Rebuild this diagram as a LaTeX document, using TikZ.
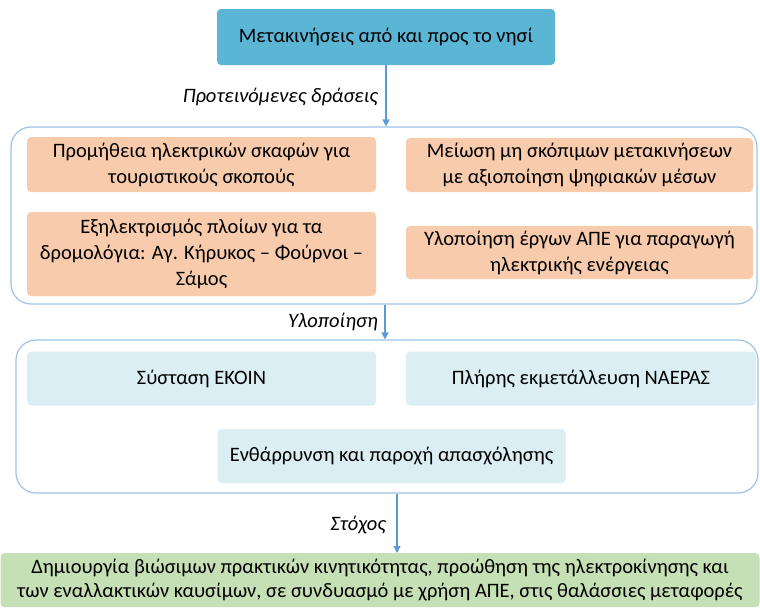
\documentclass[tikz,border=0pt]{standalone}
\usepackage{fontspec}
\setmainfont{Carlito}
\usetikzlibrary{arrows.meta}
\definecolor{topblue}{HTML}{5BB5D5}
\definecolor{orangefill}{HTML}{F8CBAD}
\definecolor{lightbluefill}{HTML}{DAEEF3}
\definecolor{greenfill}{HTML}{C5E0B4}
\definecolor{framecol}{HTML}{9DC3E6}
\definecolor{arrowcol}{HTML}{5B9BD5}
\tikzset{
  box/.style={rounded corners=4pt, align=center, inner sep=2pt,
    font=\fontsize{20.5}{26}\selectfont},
  topbox/.style={box, fill=topblue},
  orangebox/.style={box, fill=orangefill},
  bluebox/.style={box, fill=lightbluefill},
  greenbox/.style={box, fill=greenfill, font=\fontsize{20.5}{24}\selectfont},
  frame/.style={draw=framecol, line width=1.2pt, rounded corners=20pt},
  flow/.style={draw=arrowcol, line width=1.2pt, -{Triangle[length=7pt,width=7pt]}},
  lbl/.style={font=\fontsize{20.5}{24}\selectfont\itshape, anchor=east, inner sep=0pt}
}
\begin{document}
\begin{tikzpicture}[x=1pt,y=-1pt]
\useasboundingbox (0,0) rectangle (760,608);
\node[topbox, minimum width=338pt, minimum height=56pt] (top) at (386,37) {Μετακινήσεις από και προς το νησί};
\node[frame, minimum width=746pt, minimum height=177pt] (c1) at (384,215.5) {};
\node[orangebox, minimum width=349pt, minimum height=55pt] (o1) at (201.5,164.5) {Προμήθεια ηλεκτρικών σκαφών για\\τουριστικούς σκοπούς};
\node[orangebox, minimum width=349pt, minimum height=84pt] (o2) at (201.5,254) {Εξηλεκτρισμός πλοίων για τα\\δρομολόγια: Αγ. Κήρυκος – Φούρνοι –\\Σάμος};
\node[orangebox, minimum width=347pt, minimum height=54pt] (o3) at (579.5,165) {Μείωση μη σκόπιμων μετακινήσεων\\με αξιοποίηση ψηφιακών μέσων};
\node[orangebox, minimum width=347pt, minimum height=53pt] (o4) at (579.5,252.5) {Υλοποίηση έργων ΑΠΕ για παραγωγή\\ηλεκτρικής ενέργειας};
\node[frame, minimum width=742pt, minimum height=153pt] (c2) at (387,416.5) {};
\node[bluebox, minimum width=349pt, minimum height=54pt] (b1) at (201.5,378.5) {Σύσταση ΕΚΟΙΝ};
\node[bluebox, minimum width=350pt, minimum height=54pt] (b2) at (581,378.5) {Πλήρης εκμετάλλευση ΝΑΕΡΑΣ};
\node[bluebox, minimum width=348pt, minimum height=54pt] (b3) at (391.5,456) {Ενθάρρυνση και παροχή απασχόλησης};
\node[greenbox, minimum width=759pt, minimum height=54pt, anchor=north] (goal) at (380,553) {Δημιουργία βιώσιμων πρακτικών κινητικότητας, προώθηση της ηλεκτροκίνησης και\\των εναλλακτικών καυσίμων, σε συνδυασμό με χρήση ΑΠΕ, στις θαλάσσιες μεταφορές};
\draw[flow] (top.south) -- (top.south |- c1.north);
\draw[flow] ([xshift=1pt]c1.south) -- ([xshift=1pt]c1.south |- c2.north);
\coordinate (a3) at (397,0);
\draw[flow] (a3 |- c2.south) -- (a3 |- goal.north);
\node[lbl] (l1) at (378,97) {Προτεινόμενες δράσεις};
\node[lbl] (l2) at (378,322) {Υλοποίηση};
\node[lbl] (l3) at (386,525) {Στόχος};
\end{tikzpicture}
\end{document}
